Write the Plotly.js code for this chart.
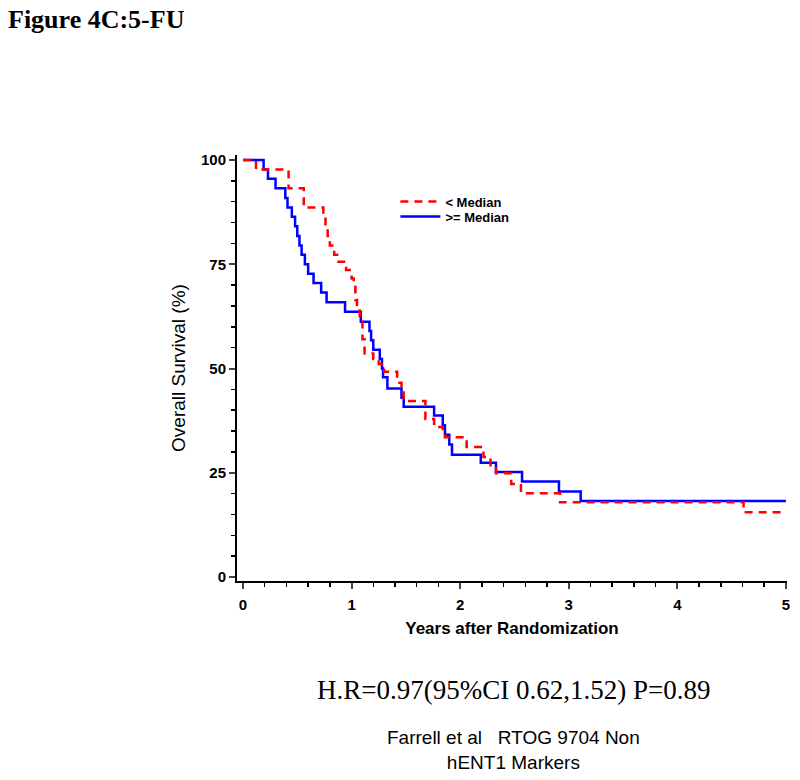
<!DOCTYPE html>
<html><head><meta charset="utf-8">
<script src="https://cdn.plot.ly/plotly-3.0.1.min.js"></script>
<style>html,body{margin:0;padding:0;background:#fff}</style>
</head><body><div id="chart" style="width:800px;height:780px"></div>
<script>
// Kaplan-Meier step data (years, survival %)
const blueYears = [0, 0.19, 0.23, 0.30, 0.39, 0.41, 0.45, 0.48, 0.50, 0.52, 0.54, 0.57, 0.60, 0.65, 0.72, 0.77, 0.94, 1.085, 1.165, 1.18, 1.20, 1.26, 1.28, 1.29, 1.33, 1.46, 1.48, 1.76, 1.84, 1.86, 1.90, 1.925, 2.19, 2.33, 2.57, 2.91, 3.11, 5.0];
const blueSurvival = [100, 97.7, 95.5, 93.2, 90.9, 88.6, 86.4, 84.1, 81.8, 79.5, 77.3, 75.0, 72.7, 70.5, 68.2, 65.9, 63.6, 61.2, 59.0, 56.8, 54.5, 52.3, 50.0, 47.9, 45.2, 43.0, 40.8, 38.7, 36.4, 34.1, 31.8, 29.3, 27.4, 25.2, 22.9, 20.5, 18.2, 18.2];
const redYears = [0, 0.12, 0.42, 0.56, 0.74, 0.76, 0.78, 0.80, 0.84, 0.88, 0.95, 1.00, 1.02, 1.035, 1.05, 1.075, 1.10, 1.12, 1.20, 1.25, 1.30, 1.42, 1.46, 1.48, 1.68, 1.76, 1.84, 1.86, 2.06, 2.215, 2.28, 2.33, 2.47, 2.56, 2.92, 4.61, 5.0];
const redSurvival = [100, 97.7, 93.2, 88.6, 86.4, 84.1, 81.8, 79.5, 77.3, 75.6, 73.6, 71.6, 69.6, 66.4, 64.8, 62.0, 57.0, 53.6, 52.3, 51.1, 49.2, 46.6, 44.8, 42.2, 37.9, 36.0, 34.5, 33.5, 31.2, 28.8, 26.5, 24.9, 22.3, 20.1, 17.9, 15.5, 15.5];
const seriesNames = ['>= Median', '< Median'];
const xTickVals = [0, 1, 2, 3, 4, 5];
const yTickVals = [0, 25, 50, 75, 100];
const figureTitle = 'Figure 4C:5-FU';
const hrText = 'H.R=0.97(95%CI 0.62,1.52) P=0.89';
const sourceText = 'Farrell et al&nbsp;&nbsp;&nbsp;RTOG 9704 Non<br>hENT1 Markers';

const traces = [
  {x: blueYears, y: blueSurvival, name: seriesNames[0], type: 'scatter', mode: 'lines', legend: 'legend2',
   line: {shape: 'hv', color: '#0000ff', width: 2.5}},
  {x: redYears, y: redSurvival, name: seriesNames[1], type: 'scatter', mode: 'lines', legend: 'legend',
   line: {shape: 'hv', color: '#ff0000', width: 2.5, dash: '8px,6px'}}
];

const sans = 'Liberation Sans, Arial, sans-serif';
const axisFont = {family: sans, size: 15, color: '#000', weight: 'bold'};
const legendFont = {family: sans, size: 13, color: '#000', weight: 'bold'};

const layout = {
  width: 800, height: 780,
  margin: {l: 237, r: 13, t: 155, b: 199},
  paper_bgcolor: '#fff', plot_bgcolor: '#fff',
  showlegend: true,
  title: {text: '<b>' + figureTitle + '</b>', xref: 'container', yref: 'container',
          x: 0.01, xanchor: 'left', y: 1 - 19/780, yanchor: 'middle',
          font: {family: 'Liberation Serif, Times New Roman, serif', size: 26, color: '#000'}},
  legend: {x: 0.288, y: (581 - 201.5) / 426, xanchor: 'left', yanchor: 'middle',
           bgcolor: 'rgba(0,0,0,0)', font: legendFont, itemwidth: 40},
  legend2: {x: 0.288, y: (581 - 216.5) / 426, xanchor: 'left', yanchor: 'middle',
           bgcolor: 'rgba(0,0,0,0)', font: legendFont, itemwidth: 40},
  xaxis: {range: [-0.055, 5.01], tickvals: xTickVals, ticks: 'outside', ticklen: 6, tickwidth: 2,
          showline: true, linecolor: '#000', linewidth: 2, showgrid: false, zeroline: false,
          tickfont: axisFont, ticklabelstandoff: 3,
          minor: {dtick: 0.2, ticks: 'outside', ticklen: 4, tickwidth: 1.5, tickcolor: '#000', showgrid: false},
          title: {text: 'Years after Randomization', standoff: 10,
                  font: {family: sans, size: 17, color: '#000', weight: 'bold'}}},
  yaxis: {range: [-0.96, 101.2], tickvals: yTickVals, ticks: 'outside', ticklen: 6, tickwidth: 2,
          showline: true, linecolor: '#000', linewidth: 2, showgrid: false, zeroline: false,
          tickfont: axisFont,
          minor: {dtick: 5, ticks: 'outside', ticklen: 4, tickwidth: 1.5, tickcolor: '#000', showgrid: false},
          title: {text: 'Overall Survival (%)', standoff: 10,
                  font: {family: sans, size: 19, color: '#000'}}},
  annotations: [
    {text: hrText, xref: 'paper', yref: 'paper', x: (513 - 237) / 550, y: (581 - 690) / 426, xanchor: 'center', yanchor: 'middle',
     showarrow: false, font: {family: 'Liberation Serif, Times New Roman, serif', size: 27, color: '#000'}},
    {text: sourceText, xref: 'paper', yref: 'paper', x: (513 - 237) / 550, y: (581 - 750) / 426, xanchor: 'center', yanchor: 'middle',
     showarrow: false, font: {family: sans, size: 19, color: '#000'}}
  ]
};

Plotly.newPlot('chart', traces, layout, {displayModeBar: false, staticPlot: true});
</script>
</body></html>
